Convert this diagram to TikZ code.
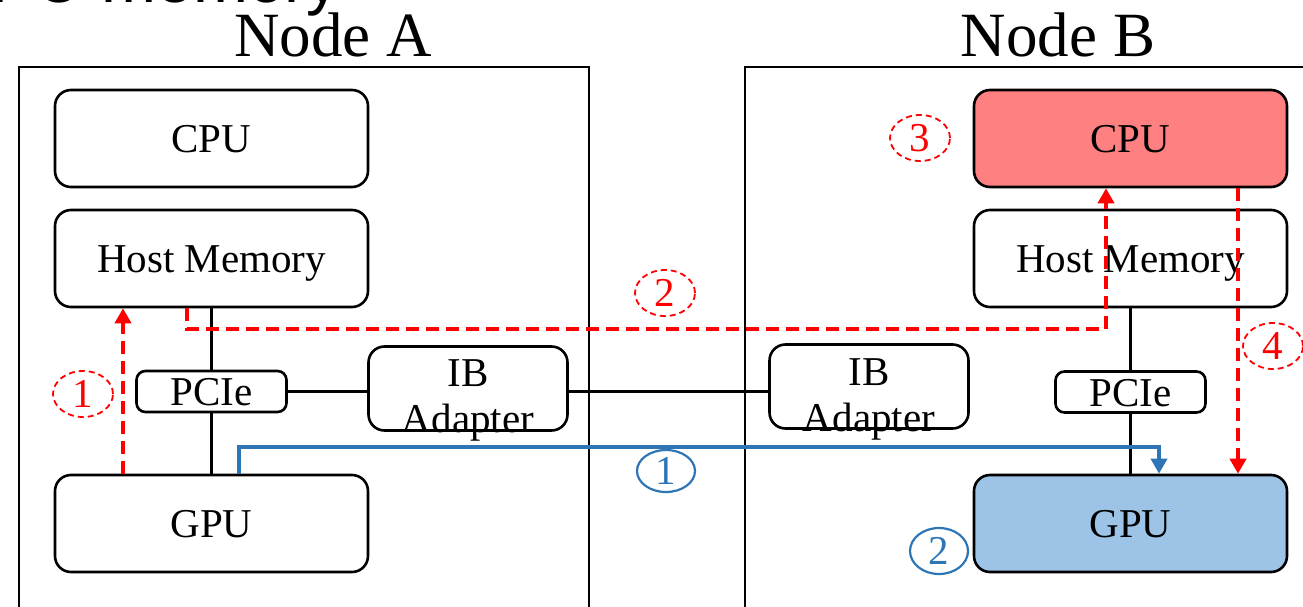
\documentclass[tikz,border=0pt]{standalone}
\usepackage{fontspec}
\setmainfont{Liberation Serif}
\newfontfamily\sansf{Liberation Sans}
\usetikzlibrary{arrows.meta,shapes.geometric}
\definecolor{pinkfill}{HTML}{FF8080}
\definecolor{bluefill}{HTML}{9DC3E6}
\definecolor{blueline}{HTML}{2E75B6}
\begin{document}
\begin{tikzpicture}[x=1pt,y=-1pt,
  box/.style={draw, line width=2.6pt, rounded corners=16pt, inner sep=0pt,
    font=\fontsize{41}{46}\selectfont, text height=28pt, text depth=0pt},
  bigbox/.style={box, minimum width=313pt, minimum height=97pt},
  pciebox/.style={box, minimum width=150pt, minimum height=41pt, rounded corners=9pt},
  ibbox/.style={draw, line width=2.6pt, rounded corners=16pt, inner sep=0pt,
    minimum width=199pt, minimum height=84pt},
  boxtext/.style={inner sep=0pt, align=center, font=\fontsize{41}{46}\selectfont},
  frame/.style={draw, line width=2pt},
  link/.style={line width=3pt},
  redarrow/.style={red, line width=4.5pt, dash pattern=on 13pt off 7pt,
    -{Triangle[length=15pt,width=16pt]}},
  bluearrow/.style={blueline, line width=3.5pt, -{Triangle[length=15pt,width=16pt]}},
  redlabel/.style={ellipse, draw=red, text=red, line width=1.8pt,
    dash pattern=on 6pt off 4pt, minimum width=60pt, minimum height=46pt,
    inner sep=0pt, font=\fontsize{41}{41}\selectfont},
  bluelabel/.style={ellipse, draw=blueline, text=blueline, line width=2.2pt,
    minimum width=58pt, minimum height=42pt, inner sep=0pt,
    font=\fontsize{41}{41}\selectfont},
  title/.style={inner sep=0pt, anchor=base, font=\fontsize{63}{63}\selectfont}]
\useasboundingbox (0,0) rectangle (1303,607);
\clip (0,0) rectangle (1303,607);

% cut-off heading
\node[inner sep=0pt, anchor=base east, font=\sansf\fontsize{66}{66}\selectfont] (head) at (340,3) {GPU memory};

% node frames
\draw[frame] (19,67) rectangle (589,700);
\draw[frame] (745,67) rectangle (1330,700);
\node[title] (titleA) at (333,57) {Node A};
\node[title] (titleB) at (1058,57) {Node B};

% Node A
\node[bigbox] (cpuA) at (211.5,138.5) {CPU};
\node[bigbox] (hmA) at (211.5,258.5) {Host Memory};
\node[bigbox] (gpuA) at (211.5,523.5) {GPU};
\node[pciebox] (pcieA) at (211.5,391.5) {PCIe};
\node[ibbox] (ibA) at (468,388.5) {};
\node[boxtext] (ibAtext) at (468,400) {IB\\Adapter};

% Node B
\node[bigbox, fill=pinkfill] (cpuB) at (1130.5,138.5) {CPU};
\node[bigbox] (hmB) at (1130.5,258.5) {Host Memory};
\node[bigbox, fill=bluefill] (gpuB) at (1130.5,523.5) {GPU};
\node[pciebox] (pcieB) at (1130.5,392) {PCIe};
\node[ibbox] (ibB) at (869,386.5) {};
\node[boxtext] (ibBtext) at (869,399) {IB\\Adapter};

% links
\draw[link] (hmA.south) -- (pcieA.north);
\draw[link] (pcieA.south) -- (gpuA.north);
\draw[link] (pcieA.east) -- (pcieA.east -| ibA.west);
\draw[link] (pcieA.east -| ibA.east) -- (pcieA.east -| ibB.west);
\draw[link] (hmB.south) -- (pcieB.north);
\draw[link] (pcieB.south) -- (gpuB.north);

% red path
\coordinate (r1) at (123,0);
\coordinate (r2a) at (187,329);
\coordinate (r2b) at (1106,329);
\coordinate (r4) at (1238,0);
\draw[redarrow] (gpuA.north -| r1) -- (hmA.south -| r1);
\draw[redarrow] (hmA.south -| r2a) -- (r2a) -- (r2b) -- (cpuB.south -| r2b);
\draw[redarrow] (cpuB.south -| r4) -- (gpuB.north -| r4);

% blue path
\coordinate (b1) at (239,447);
\coordinate (b2) at (1159,447);
\draw[bluearrow] (gpuA.north -| b1) -- (b1) -- (b2) -- (gpuB.north -| b2);

% step labels
\node[redlabel] (s1) at (83,394) {1};
\node[redlabel] (s2) at (665,293) {2};
\node[redlabel] (s3) at (920,138) {3};
\node[redlabel] (s4) at (1273,346) {4};
\node[bluelabel] (t1) at (666,471) {1};
\node[bluelabel, minimum height=46pt] (t2) at (939,551) {2};
\end{tikzpicture}
\end{document}
